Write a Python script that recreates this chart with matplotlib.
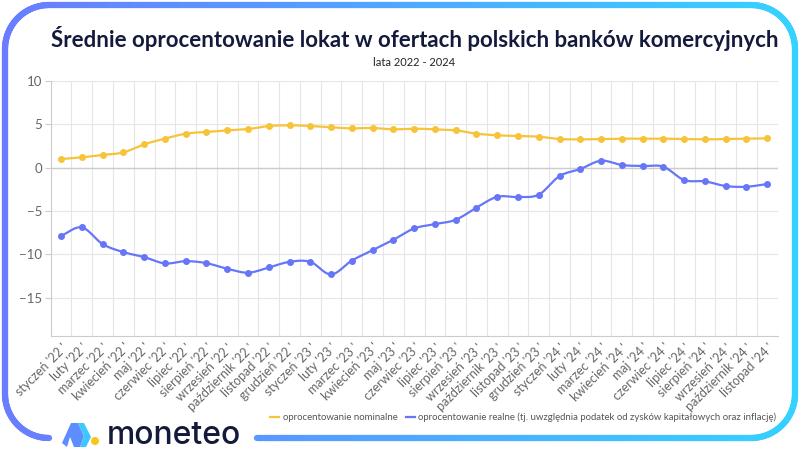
import numpy as np
import matplotlib.pyplot as plt
from matplotlib.collections import LineCollection
from matplotlib.colors import LinearSegmentedColormap
from matplotlib.patches import Polygon, Circle

plt.rcParams['font.family'] = ['Lato', 'DejaVu Sans']

# Data: average deposit rates in Polish commercial banks, Jan 2022 - Nov 2024
months = ["styczeń", "luty", "marzec", "kwiecień", "maj", "czerwiec", "lipiec",
          "sierpień", "wrzesień", "październik", "listopad", "grudzień"]
labels = [f"{m} '{y} '" for y in ("22", "23", "24") for m in months][:35]

nominal = [1.0, 1.2, 1.47, 1.77, 2.7, 3.35, 3.93, 4.12, 4.31, 4.46, 4.81, 4.89,
           4.81, 4.66, 4.54, 4.58, 4.43, 4.5, 4.43, 4.31, 3.93, 3.74, 3.66, 3.58,
           3.31, 3.27, 3.31, 3.35, 3.35, 3.35, 3.31, 3.27, 3.31, 3.35, 3.39]
real = [-7.85, -6.88, -8.8, -9.73, -10.3, -11.03, -10.77, -11.0, -11.65, -12.1,
        -11.5, -10.85, -10.85, -12.3, -10.7, -9.5, -8.3, -7.0, -6.5, -6.0, -4.6,
        -3.35, -3.38, -3.1, -0.96, -0.15, 0.81, 0.31, 0.2, 0.12, -1.42, -1.57,
        -2.11, -2.19, -1.88]

yellow = "#f7c338"
blue = "#6676f7"
navy = "#141a3c"


def smooth(x, y, n=12):
    # Catmull-Rom curve through the data points (only for drawing the line)
    x = np.asarray(x, float)
    y = np.asarray(y, float)
    px = np.concatenate([[2 * x[0] - x[1]], x, [2 * x[-1] - x[-2]]])
    py = np.concatenate([[2 * y[0] - y[1]], y, [2 * y[-1] - y[-2]]])
    xs, ys = [], []
    t = np.linspace(0, 1, n, endpoint=False)
    for i in range(1, len(px) - 2):
        for p, out in ((px, xs), (py, ys)):
            p0, p1, p2, p3 = p[i - 1], p[i], p[i + 1], p[i + 2]
            out.extend(0.5 * (2 * p1 + (-p0 + p2) * t
                              + (2 * p0 - 5 * p1 + 4 * p2 - p3) * t ** 2
                              + (-p0 + 3 * p1 - 3 * p2 + p3) * t ** 3))
    xs.append(x[-1])
    ys.append(y[-1])
    return np.array(xs), np.array(ys)


fig = plt.figure(figsize=(8, 4.5), dpi=100)
fig.patch.set_facecolor("white")

# frame with gradient border + logo
bg = fig.add_axes([0, 0, 1, 1])
bg.set_xlim(0, 800)
bg.set_ylim(450, 0)
bg.axis("off")

L, R, T, B, r = 5, 795, 5, 438, 44
pts = []
a = np.linspace(np.pi / 2, np.pi, 20)
pts += list(zip(L + r + r * np.cos(a), B - r + r * np.sin(a)))
pts += [(L, T + r)]
a = np.linspace(np.pi, 1.5 * np.pi, 20)
pts += list(zip(L + r + r * np.cos(a), T + r + r * np.sin(a)))
a = np.linspace(1.5 * np.pi, 2 * np.pi, 20)
pts += list(zip(R - r + r * np.cos(a), T + r + r * np.sin(a)))
a = np.linspace(0, np.pi / 2, 20)
pts += list(zip(R - r + r * np.cos(a), B - r + r * np.sin(a)))
pts += [(257, B)]
pts = np.array(pts)
# densify so the gradient is smooth
dense = []
for p, q in zip(pts[:-1], pts[1:]):
    k = max(2, int(np.hypot(*(q - p)) / 4))
    dense += list(zip(np.linspace(p[0], q[0], k, endpoint=False),
                      np.linspace(p[1], q[1], k, endpoint=False)))
dense.append(tuple(pts[-1]))
dense = np.array(dense)
segs = np.stack([dense[:-1], dense[1:]], axis=1)
cmap = LinearSegmentedColormap.from_list("frame", ["#6a7cff", "#35d2ff"])
lc = LineCollection(segs, cmap=cmap, linewidths=4.5, capstyle="round")
lc.set_array((segs[:, 0, 0] + segs[:, 1, 0]) / 2)
lc.set_clim(0, 800)
bg.add_collection(lc)

icon_left = Polygon([(62, 443), (71, 423), (78, 423), (84, 436), (80, 447), (74, 447),
                     (70, 437), (67, 447)], closed=True, color="#5d8dff", lw=0)
icon_right = Polygon([(78, 423), (84, 423), (91, 437), (86, 447), (80, 447), (84, 436)],
                     closed=True, color="#3ec8ff", lw=0)
bg.add_patch(icon_left)
bg.add_patch(icon_right)
bg.add_patch(Circle((95, 441), 4, color="#f8c51a", lw=0))
bg.text(107, 436, "moneteo", fontsize=23, color=navy, va="center", ha="left",
        family=["Inter", "DejaVu Sans"], fontweight="medium")

fig.text(0.518, 0.915, "Średnie oprocentowanie lokat w ofertach polskich banków komercyjnych",
         ha="center", va="center", fontsize=16, fontweight="bold", color=navy)
fig.text(0.518, 0.862, "lata 2022 - 2024", ha="center", va="center", fontsize=8, color="#222222")

# main chart
ax = fig.add_axes([0.0634, 0.2533, 0.9086, 0.5667])
x = np.arange(len(labels))
for vals, col, name in ((nominal, yellow, "oprocentowanie nominalne"),
                        (real, blue, "oprocentowanie realne (tj. uwzględnia podatek od zysków kapitałowych oraz inflację)")):
    sx, sy = smooth(x, vals)
    ax.plot(sx, sy, color=col, lw=1.6, zorder=3, label=name)
    ax.plot(x, vals, "o", color=col, ms=4, zorder=4)

ax.set_xlim(-0.5, len(labels) - 0.5)
ax.set_ylim(-19.4, 10)
ax.set_yticks([10, 5, 0, -5, -10, -15])
ax.set_xticks(x)
ax.set_xticklabels(labels, rotation=45, ha="right", rotation_mode="anchor",
                   fontsize=9, color="#666666")
ax.set_xticks(np.arange(-0.5, len(labels)), minor=True)
ax.grid(True, which="minor", axis="x", color="#e6e6e6", lw=0.8)
ax.grid(True, which="major", axis="y", color="#e6e6e6", lw=0.8)
ax.axhline(0, color="#cccccc", lw=1, zorder=1)
ax.tick_params(axis="x", which="both", length=0, pad=4)
ax.tick_params(axis="y", length=4, color="#cccccc", labelsize=9.5, labelcolor="#666666", pad=2)
for s in ("top", "right"):
    ax.spines[s].set_visible(False)
for s in ("left", "bottom"):
    ax.spines[s].set_color("#cccccc")
ax.set_axisbelow(True)

handles, names = ax.get_legend_handles_labels()
fig.legend(handles, names, loc="center", bbox_to_anchor=(0.654, 0.073), ncol=2,
           frameon=False, fontsize=6.9, handlelength=0.9, handletextpad=0.4,
           columnspacing=0.9, labelcolor="#555555")

fig.savefig("out.png", dpi=100)
